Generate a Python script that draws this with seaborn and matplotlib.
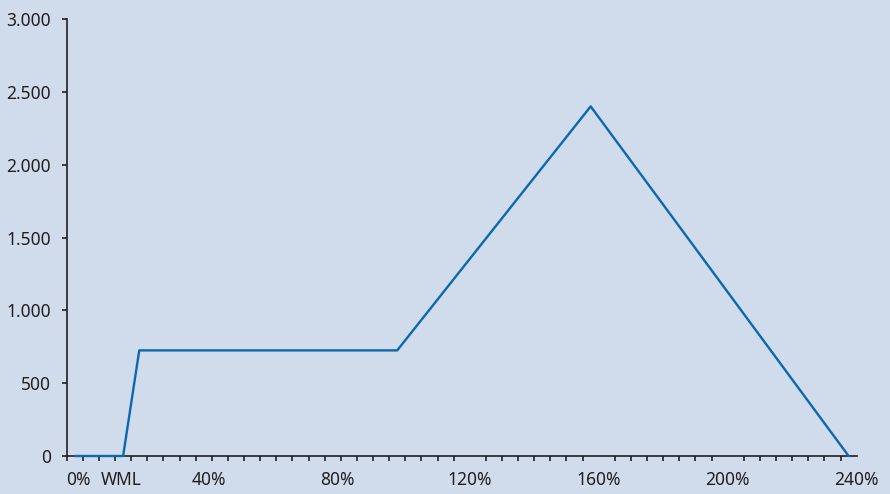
import numpy as np
import pandas as pd
import matplotlib
matplotlib.use("Agg")
import matplotlib.pyplot as plt
from matplotlib.ticker import FixedLocator, FuncFormatter
import seaborn as sns

# data (x in percent, y in units)
x_pct = [0, 15, 20, 100, 160, 240]
y_val = [0, 0, 725, 725, 2400, 0]

x_label_pos = [1.0, 14.5, 41.5, 81.5, 122.5, 162.5, 202.5, 242.5]
x_label_txt = ["0%", "WML", "40%", "80%", "120%", "160%", "200%", "240%"]
y_ticks = [0, 500, 1000, 1500, 2000, 2500, 3000]

bg = "#D0DBEC"
line_col = "#0A68AC"
txt_col = "#231F20"

sns.set_theme(style="ticks")
plt.rcParams["font.family"] = ["Noto Sans", "DejaVu Sans"]

df = pd.DataFrame({"pct": x_pct, "val": y_val})

fig = plt.figure(figsize=(8.9, 4.94), dpi=100, facecolor=bg)
ax = fig.add_axes([66.7 / 890, 38 / 494, 790 / 890, 437 / 494])
ax.set_facecolor(bg)

sns.lineplot(data=df, x="pct", y="val", ax=ax, color=line_col, linewidth=1.7)
for ln in ax.lines:
    ln.set_zorder(5)
    ln.set_clip_on(False)

ax.set_xlim(-2.5, 242.5)
ax.set_ylim(0, 3000)
ax.set_xlabel("")
ax.set_ylabel("")

ax.spines["top"].set_visible(False)
ax.spines["right"].set_visible(False)
for s in ("left", "bottom"):
    ax.spines[s].set_color(txt_col)
    ax.spines[s].set_linewidth(1.2)

ax.yaxis.set_major_locator(FixedLocator(y_ticks))
ax.yaxis.set_major_formatter(FuncFormatter(lambda v, p: f"{int(v):,}".replace(",", ".")))
ax.tick_params(axis="y", length=3.5, width=1.2, color=txt_col, pad=8,
               labelsize=12.5, labelcolor=txt_col)

ax.xaxis.set_major_locator(FixedLocator(x_label_pos))
ax.set_xticklabels(x_label_txt)
ax.get_xticklabels()[1].set_fontsize(11)
ax.xaxis.set_minor_locator(FixedLocator(np.arange(-2.5, 243, 5)))
ax.tick_params(axis="x", which="major", length=0, pad=11,
               labelsize=12.5, labelcolor=txt_col)
ax.tick_params(axis="x", which="minor", length=3.5, width=1.2, color=txt_col)

fig.savefig("out.png", dpi=100, facecolor=bg)
